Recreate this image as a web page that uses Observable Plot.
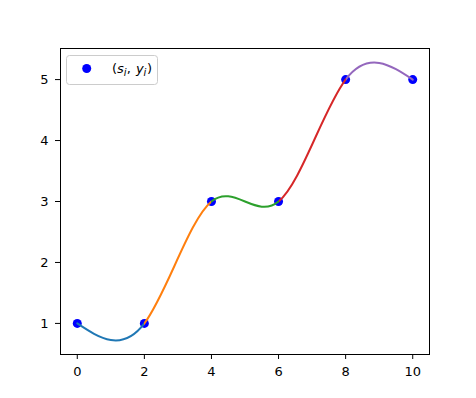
<!DOCTYPE html>
<html>
<head>
<meta charset="utf-8">
<script src="https://cdn.jsdelivr.net/npm/d3@7"></script>
<script src="https://cdn.jsdelivr.net/npm/@observablehq/plot@0.6"></script>
<style>
  html, body { margin: 0; padding: 0; background: white; }
  #chart { position: relative; width: 476px; height: 398px; }
  #chart svg text { font-family: "DejaVu Sans", sans-serif; font-size: 13px; fill: black; }
</style>
</head>
<body>
<div id="chart"></div>
<script>
// Knots of the spline (s_i, y_i)
const sValues = [0, 2, 4, 6, 8, 10];
const yValues = [1, 1, 3, 3, 5, 5];
// Colour of each spline piece between consecutive knots
const segmentColors = ["#1f77b4", "#ff7f0e", "#2ca02c", "#d62728", "#9467bd"];
const xTicks = [0, 2, 4, 6, 8, 10];
const yTicks = [1, 2, 3, 4, 5];

const points = sValues.map((s, i) => ({x: s, y: yValues[i]}));

const chart = Plot.plot({
  width: 476,
  height: 398,
  marginLeft: 60,
  marginRight: 47,
  marginTop: 48,
  marginBottom: 44,
  style: {fontFamily: "DejaVu Sans", fontSize: "13px", color: "black", background: "white", overflow: "visible"},
  x: {domain: [-0.5, 10.5], ticks: xTicks, tickSize: 5, tickPadding: 7, label: null, tickFormat: d => String(d)},
  y: {domain: [0.49, 5.51], ticks: yTicks, tickSize: 5, tickPadding: 7, label: null, tickFormat: d => String(d)},
  marks: [
    Plot.frame({stroke: "black", strokeWidth: 1}),
    Plot.dot(points, {x: "x", y: "y", r: 4.5, fill: "#0000ff", stroke: "none"}),
    Plot.line(points, {x: "x", y: "y", curve: "natural", stroke: "black", strokeWidth: 2})
  ]
});

document.getElementById("chart").appendChild(chart);

// Per-segment colouring through a hard-stop gradient aligned to the x scale
const sx = chart.scale("x");
const svg = d3.select(chart);
const defs = svg.insert("defs", ":first-child");
const grad = defs.append("linearGradient")
  .attr("id", "segGrad")
  .attr("gradientUnits", "userSpaceOnUse")
  .attr("x1", sx.apply(sValues[0]))
  .attr("x2", sx.apply(sValues[sValues.length - 1]))
  .attr("y1", 0).attr("y2", 0);
const n = segmentColors.length;
segmentColors.forEach((c, i) => {
  grad.append("stop").attr("offset", i / n).attr("stop-color", c);
  grad.append("stop").attr("offset", (i + 1) / n).attr("stop-color", c);
});
svg.selectAll('g[aria-label="line"] path').attr("stroke", "url(#segGrad)");

// Legend (upper left, matplotlib style)
const lg = svg.append("g").attr("transform", "translate(66,55)");
lg.append("rect").attr("x", 0.5).attr("y", 0.5).attr("width", 91).attr("height", 29)
  .attr("rx", 3).attr("fill", "white").attr("fill-opacity", 0.8)
  .attr("stroke", "#cccccc").attr("stroke-width", 1);
lg.append("circle").attr("cx", 20.7).attr("cy", 13.5).attr("r", 4.5).attr("fill", "#0000ff");
const t = lg.append("text").attr("x", 46).attr("y", 18)
  .attr("text-anchor", "start").style("text-anchor", "start");
t.append("tspan").text("(");
t.append("tspan").style("font-style", "italic").text("s");
t.append("tspan").style("font-style", "italic").style("font-size", "10px").attr("dy", 2.5).text("i");
t.append("tspan").attr("dy", -2.5).text(", ");
t.append("tspan").attr("dx", 1).style("font-style", "italic").text("y");
t.append("tspan").style("font-style", "italic").style("font-size", "10px").attr("dy", 2.5).text("i");
t.append("tspan").attr("dy", -2.5).attr("dx", 0.5).text(")");
</script>
</body>
</html>
